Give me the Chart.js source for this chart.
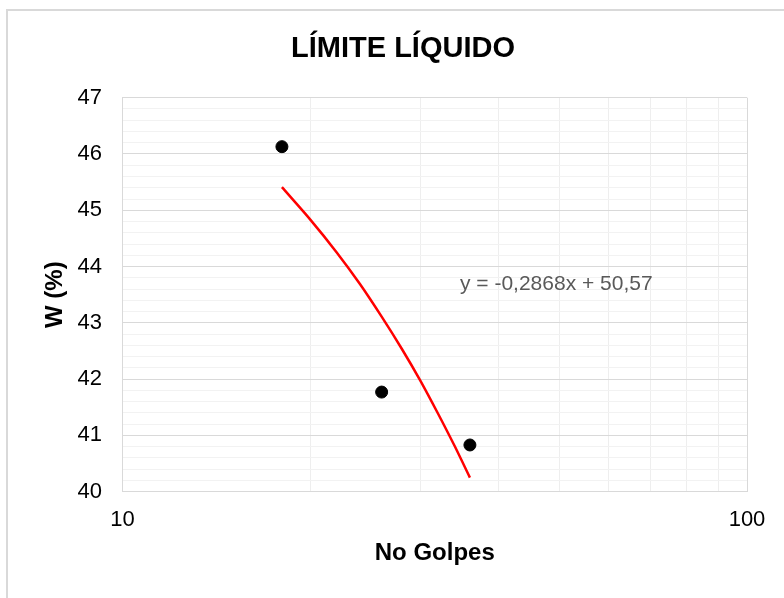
<!DOCTYPE html>
<html>
<head>
<meta charset="utf-8">
<title>Límite líquido</title>
<script src="https://cdn.jsdelivr.net/npm/chart.js@4"></script>
<style>
  body { margin: 0; background: #fff; }
  #wrap { position: relative; width: 784px; height: 598px; overflow: hidden; }
  #frame { position: absolute; left: 6px; top: 9px; width: 900px; height: 700px;
           border-left: 2px solid #d9d9d9; border-top: 2px solid #d9d9d9; }
  canvas { position: absolute; left: 0; top: 0; }
</style>
</head>
<body>
<div id="wrap">
  <div id="frame"></div>
  <canvas id="grafico" width="784" height="598"></canvas>
</div>
<script>
// datos del ensayo
const golpes = [18, 26, 36];
const humedad = [46.13, 41.77, 40.83];

// linea de tendencia
const tendGolpes = [18, 20, 22, 24, 26, 28, 30, 32, 34, 36];
const tendHumedad = [45.41, 44.83, 44.26, 43.69, 43.11, 42.54, 41.97, 41.39, 40.82, 40.25];

const xTicks = [10, 100];
const xGrid = [10, 20, 30, 40, 50, 60, 70, 80, 90, 100];
const titulo = 'LÍMITE LÍQUIDO';
const ecuacion = 'y = -0,2868x + 50,57';

const puntos = golpes.map((g, i) => ({ x: g, y: humedad[i] }));
const tendencia = tendGolpes.map((g, i) => ({ x: g, y: tendHumedad[i] }));

const fuente = '"Liberation Sans", Arial, sans-serif';

// titulo y texto de la ecuacion
const textosPlugin = {
  id: 'textos',
  afterDraw(chart) {
    const ctx = chart.ctx;
    ctx.save();
    ctx.textBaseline = 'middle';
    ctx.textAlign = 'center';
    ctx.fillStyle = '#000';
    ctx.font = 'bold 29px ' + fuente;
    ctx.fillText(titulo, 403, 49);
    ctx.textAlign = 'left';
    ctx.font = '21px ' + fuente;
    ctx.fillStyle = '#595959';
    ctx.fillText(ecuacion, 460, 284);
    ctx.restore();
  }
};

const esEntero = v => Math.abs(v - Math.round(v)) < 1e-6;

new Chart(document.getElementById('grafico').getContext('2d'), {
  type: 'scatter',
  data: {
    datasets: [
      {
        label: 'Datos',
        data: puntos,
        backgroundColor: '#000',
        borderColor: '#000',
        pointRadius: 6,
        showLine: false
      },
      {
        label: 'Tendencia',
        data: tendencia,
        borderColor: '#ff0000',
        borderWidth: 2.5,
        pointRadius: 0,
        showLine: true,
        tension: 0.3
      }
    ]
  },
  options: {
    responsive: false,
    animation: false,
    layout: { padding: { left: 8, right: 37, top: 97.7, bottom: 0 } },
    plugins: {
      legend: { display: false },
      tooltip: { enabled: false },
      title: { display: false }
    },
    scales: {
      x: {
        type: 'logarithmic',
        min: 10,
        max: 100,
        afterBuildTicks: scale => { scale.ticks = xGrid.map(v => ({ value: v })); },
        afterFit: scale => { scale.height = 106.3; },
        grid: {
          drawTicks: false,
          color: ctx => xTicks.includes(ctx.tick && ctx.tick.value) ? '#d9d9d9' : '#eeeeee'
        },
        border: { display: true, color: '#d9d9d9' },
        ticks: {
          autoSkip: false,
          maxRotation: 0,
          padding: 15,
          color: '#000',
          font: { family: fuente, size: 22 },
          callback: v => xTicks.includes(v) ? String(v) : ''
        },
        title: {
          display: true,
          text: 'No Golpes',
          color: '#000',
          font: { family: fuente, size: 24, weight: 'bold' },
          padding: { top: 0, bottom: 30 }
        }
      },
      y: {
        min: 40,
        max: 47,
        afterFit: scale => { scale.width = 114.5; },
        grid: {
          drawTicks: false,
          color: ctx => esEntero(ctx.tick.value) ? '#d9d9d9' : '#f2f2f2'
        },
        border: { display: true, color: '#d9d9d9' },
        ticks: {
          stepSize: 0.2,
          autoSkip: false,
          padding: 20.5,
          color: '#000',
          font: { family: fuente, size: 22 },
          callback: v => esEntero(v) ? String(Math.round(v)) : ''
        },
        title: {
          display: true,
          text: 'W (%)',
          color: '#000',
          font: { family: fuente, size: 24, weight: 'bold' },
          padding: { top: 33, bottom: 0 }
        }
      }
    }
  },
  plugins: [textosPlugin]
});
</script>
</body>
</html>
